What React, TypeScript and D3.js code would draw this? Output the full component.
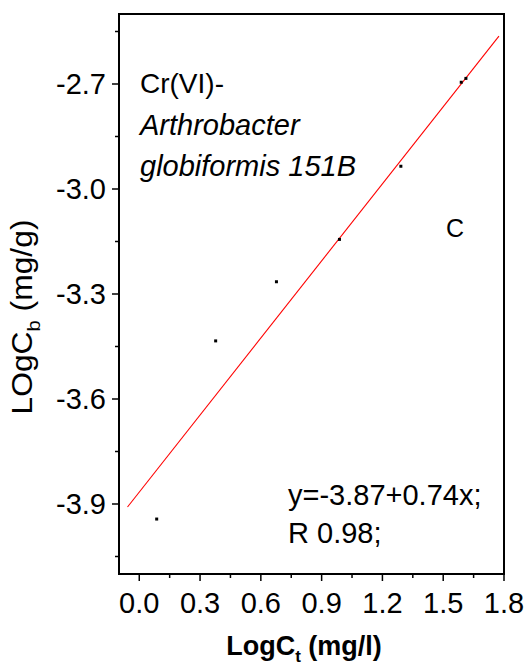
import * as d3 from "d3";

// measured points (LogCt, LogCb)
const logCt = [0.086, 0.377, 0.677, 0.988, 1.291, 1.589, 1.612];
const logCb = [-3.943, -3.434, -3.265, -3.144, -2.935, -2.695, -2.684];

// linear fit drawn in red
const fitX = [-0.058, 1.775];
const fitIntercept = -3.866;
const fitSlope = 0.734;

const xTicks = [0, 0.3, 0.6, 0.9, 1.2, 1.5, 1.8];
const xMinor = [0.15, 0.45, 0.75, 1.05, 1.35, 1.65];
const yTicks = [-2.7, -3.0, -3.3, -3.6, -3.9];
const yMinor = [-2.55, -2.85, -3.15, -3.45, -3.75, -4.05];

const W = 528;
const H = 666;
const margin = { top: 14, right: 24, bottom: 92, left: 119 };

const FONT = "'Liberation Sans', Arial, sans-serif";

export default function App() {
    const x = d3.scaleLinear().domain([-0.1, 1.8]).range([margin.left, W - margin.right]);
    const y = d3.scaleLinear().domain([-4.1, -2.5]).range([H - margin.bottom, margin.top]);

    const x0 = margin.left;
    const x1 = W - margin.right;
    const y0 = H - margin.bottom;
    const y1 = margin.top;

    const line = d3.line<number>()
        .x(d => x(d))
        .y(d => y(fitIntercept + fitSlope * d));

    const points = logCt.map((v, i) => ({ x: v, y: logCb[i] }));

    return (
        <svg width={W} height={H} style={{ position: "absolute", left: 0, top: 0, background: "#fff" }}
            fontFamily={FONT}>
            {/* fit line */}
            <path d={line(fitX) ?? ""} fill="none" stroke="#ff0000" strokeWidth={1.1} />

            {/* points */}
            {points.map((p, i) => (
                <rect key={i} x={x(p.x) - 1.5} y={y(p.y) - 1.5} width={3} height={3} fill="#000" />
            ))}

            {/* frame */}
            <rect x={x0} y={y1} width={x1 - x0} height={y0 - y1} fill="none" stroke="#000" strokeWidth={2} />

            {/* x axis ticks */}
            {xTicks.map(t => (
                <g key={"xt" + t}>
                    <line x1={x(t)} x2={x(t)} y1={y0} y2={y0 + 7} stroke="#000" strokeWidth={1.5} />
                    <text x={x(t)} y={613} fontSize={29} textAnchor="middle">{t.toFixed(1)}</text>
                </g>
            ))}
            {xMinor.map(t => (
                <line key={"xm" + t} x1={x(t)} x2={x(t)} y1={y0} y2={y0 + 4} stroke="#000" strokeWidth={1.5} />
            ))}

            {/* y axis ticks */}
            {yTicks.map(t => (
                <g key={"yt" + t}>
                    <line x1={x0 - 7} x2={x0} y1={y(t)} y2={y(t)} stroke="#000" strokeWidth={1.5} />
                    <text x={106} y={y(t) + 10} fontSize={29} textAnchor="end">{t.toFixed(1)}</text>
                </g>
            ))}
            {yMinor.map(t => (
                <line key={"ym" + t} x1={x0 - 4} x2={x0} y1={y(t)} y2={y(t)} stroke="#000" strokeWidth={1.5} />
            ))}

            {/* axis titles */}
            <text x={304} y={655} fontSize={27} fontWeight="bold" textAnchor="middle">
                LogC<tspan fontSize={17} dy={7}>t</tspan><tspan dy={-7}> (mg/l)</tspan>
            </text>
            <text transform="translate(32,317) rotate(-90) scale(1.06,1)" fontSize={30} textAnchor="middle">
                LOgC<tspan fontSize={19} dy={8}>b</tspan><tspan dy={-8}> (mg/g)</tspan>
            </text>

            {/* annotations */}
            <text x={140} y={93} fontSize={28}>Cr(VI)-</text>
            <text x={140} y={135} fontSize={29} fontStyle="italic">Arthrobacter</text>
            <text x={140} y={176} fontSize={29} fontStyle="italic">globiformis 151B</text>
            <text x={446} y={237} fontSize={25}>C</text>
            <text x={288} y={505} fontSize={29}>y=-3.87+0.74x;</text>
            <text x={288} y={543} fontSize={29}>R 0.98;</text>
        </svg>
    );
}
